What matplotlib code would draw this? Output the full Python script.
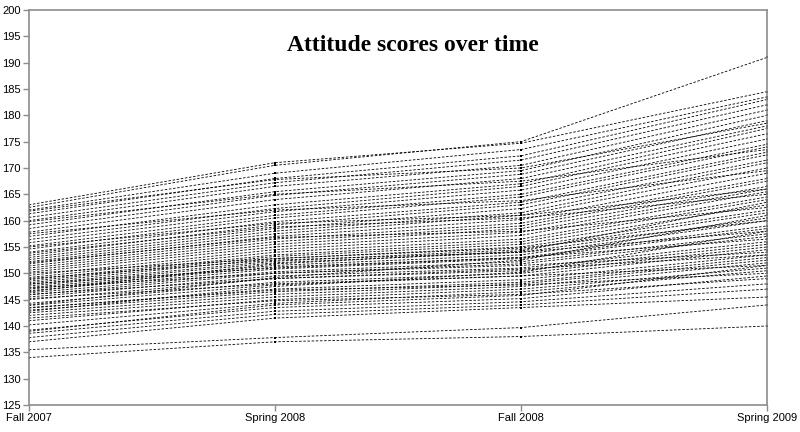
import numpy as np
import matplotlib
matplotlib.use('Agg')
import matplotlib.pyplot as plt

# etiquetas del eje x (cuatro mediciones)
waves = ['Fall 2007', 'Spring 2008', 'Fall 2008', 'Spring 2009']

# puntajes de actitud por persona, una lista por medicion
fall07 = [134.0, 135.5, 137.0, 137.8, 138.6, 139.2, 140.2, 141.0, 142.0, 142.5,
          143.0, 143.4, 143.9, 144.3, 145.0, 145.5, 145.9, 146.3, 146.7, 147.0,
          147.3, 147.6, 147.9, 148.2, 148.5, 148.8, 149.2, 149.6, 150.2, 150.6,
          151.0, 151.4, 151.8, 152.2, 152.6, 153.0, 153.4, 154.0, 154.6, 155.2,
          155.8, 156.4, 157.0, 157.8, 158.5, 159.2, 160.0, 160.6, 161.3, 162.0,
          162.5, 163.0, 145.2, 146.0, 147.2, 148.0, 149.0, 143.5, 150.0, 152.0,
          155.0, 157.5, 159.8, 153.8, 146.5, 144.0, 142.8, 141.5, 139.0, 161.8]
spr08 = [137.0, 137.8, 141.5, 142.2, 142.8, 143.5, 144.3, 145.0, 145.5, 146.0,
         146.5, 147.0, 147.8, 148.3, 149.0, 149.5, 150.0, 150.3, 150.8, 151.2,
         151.5, 152.0, 152.3, 152.8, 153.2, 153.5, 154.0, 154.5, 155.0, 155.5,
         156.0, 156.5, 157.0, 157.5, 158.0, 158.5, 159.2, 159.8, 160.5, 161.0,
         161.7, 162.3, 163.0, 164.0, 164.8, 165.5, 166.5, 167.2, 168.0, 169.0,
         170.5, 171.0, 148.0, 149.0, 150.0, 151.0, 152.5, 146.8, 152.8, 156.8,
         159.5, 162.0, 165.0, 158.8, 151.8, 149.2, 147.5, 144.8, 144.0, 167.8]
fall08 = [138.0, 139.7, 143.5, 144.0, 144.6, 145.2, 146.5, 147.0, 147.5, 148.0,
          148.3, 148.8, 149.5, 150.0, 150.5, 151.0, 151.8, 152.2, 152.8, 153.0,
          153.5, 154.0, 154.5, 155.0, 155.5, 156.0, 156.5, 157.2, 157.8, 158.5,
          159.0, 159.5, 160.2, 161.0, 161.5, 162.3, 163.0, 163.5, 164.5, 165.0,
          165.8, 166.5, 167.0, 168.0, 168.8, 169.5, 170.5, 171.5, 172.3, 173.5,
          175.0, 174.7, 149.5, 150.8, 151.5, 153.0, 154.0, 147.8, 154.8, 158.0,
          161.0, 163.8, 167.5, 160.5, 154.2, 152.5, 150.2, 146.0, 145.8, 170.0]
spr09 = [140.0, 144.0, 145.5, 147.0, 148.0, 149.5, 150.5, 151.0, 152.0, 152.5,
         153.0, 153.5, 154.5, 155.0, 155.5, 156.0, 157.0, 157.5, 158.5, 159.0,
         160.0, 160.5, 161.5, 162.0, 163.0, 164.0, 164.5, 165.5, 166.0, 166.5,
         167.5, 168.0, 169.0, 170.0, 171.0, 171.5, 172.5, 173.0, 174.0, 174.5,
         175.5, 176.5, 177.5, 178.0, 179.0, 180.0, 181.0, 182.0, 183.0, 183.5,
         191.0, 184.5, 151.5, 153.5, 154.0, 156.5, 158.0, 150.0, 160.0, 162.5,
         166.0, 169.5, 173.5, 165.0, 163.5, 161.0, 158.0, 149.0, 151.5, 178.5]

scores = np.array([fall07, spr08, fall08, spr09])
x = np.arange(len(waves))

fig = plt.figure(figsize=(8, 4.32), dpi=100)
ax = fig.add_axes([0.036, 0.0625, 0.923, 0.9145])

for k in range(scores.shape[1]):
    ax.plot(x, scores[:, k], color='black', linestyle=(0, (3, 2)), linewidth=0.6,
            marker='s', markersize=2.0, markeredgewidth=0)

ax.set_xlim(0, 3)
ax.set_ylim(125, 200)
ax.set_xticks(x)
ax.set_xticklabels(waves)
ax.set_yticks(np.arange(125, 201, 5))

for s in ax.spines.values():
    s.set_color('#8c8c8c')
    s.set_linewidth(1.2)
ax.tick_params(colors='#8c8c8c', labelcolor='black', labelsize=8, length=4, width=1, pad=2)
for lab in ax.get_xticklabels() + ax.get_yticklabels():
    lab.set_family('Liberation Sans')

ax.text(0.52, 0.91, 'Attitude scores over time', transform=ax.transAxes,
        ha='center', va='center', fontsize=17, fontweight='bold',
        family='Liberation Serif')

plt.savefig('out.png', dpi=100)
